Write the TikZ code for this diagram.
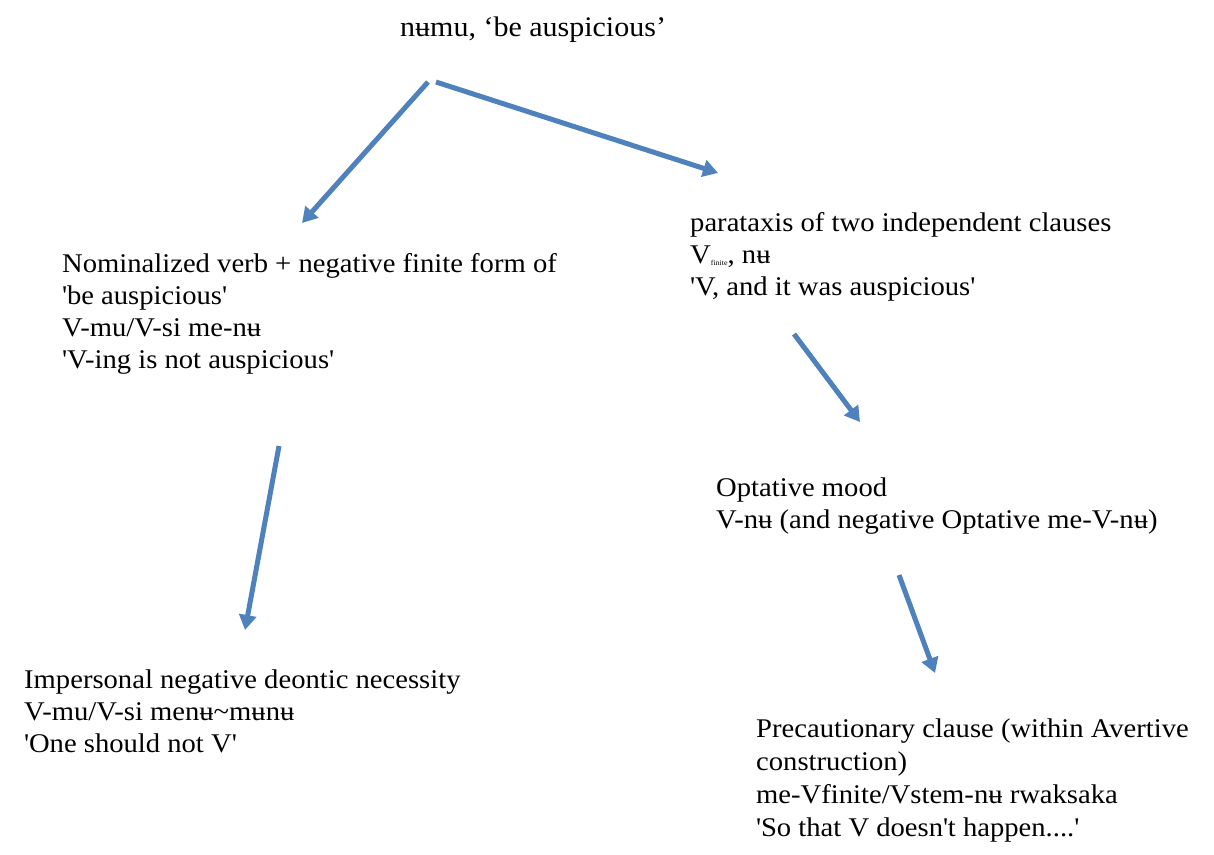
\documentclass[tikz,border=0pt]{standalone}
\usepackage{fontspec}
\setmainfont{Liberation Serif}[FakeStretch=1.06]
\usetikzlibrary{arrows.meta}
\definecolor{arrowblue}{RGB}{79,129,189}
\newcommand\sq{\textquotesingle}
\tikzset{
  txt/.style={anchor=base west, inner sep=0pt, font=\fontsize{27}{32.2}\selectfont},
  arr/.style={draw=arrowblue, line width=5pt, -{Triangle[length=15pt,width=17pt]}},
}
\begin{document}
\begin{tikzpicture}[x=1pt,y=-1pt]
\useasboundingbox[fill=white] (0,0) rectangle (1214,854);
\node[txt, font=\fontsize{28.3}{33}\selectfont] (title) at (400,36) {nʉmu, ‘be auspicious’};
\node[txt] (nominal) at (62,272) {\begin{tabular}[t]{@{}l@{}}Nominalized verb + negative finite form of\\ \sq be auspicious\sq\\ V-mu/V-si me-nʉ\\ \sq V-ing is not auspicious\sq\end{tabular}};
\node[txt] (parataxis) at (690,231) {\begin{tabular}[t]{@{}l@{}}parataxis of two independent clauses\\ V\raisebox{-2pt}{\fontsize{7.5}{7.5}\selectfont finite}, nʉ\\ \sq V, and it was auspicious\sq\end{tabular}};
\node[txt] (optative) at (716,496) {\begin{tabular}[t]{@{}l@{}}Optative mood\\ V-nʉ (and negative Optative me-V-nʉ)\end{tabular}};
\node[txt] (imperson) at (24,688) {\begin{tabular}[t]{@{}l@{}}Impersonal negative deontic necessity\\ V-mu/V-si menʉ\textasciitilde mʉnʉ\\ \sq One should not V\sq\end{tabular}};
\node[txt, font=\fontsize{27}{33.2}\selectfont] (precaution) at (756,737) {\begin{tabular}[t]{@{}l@{}}Precautionary clause (within Avertive\\ construction)\\ me-Vfinite/Vstem-nʉ rwaksaka\\ \sq So that V doesn\sq t happen....\sq\end{tabular}};
\coordinate (t1) at (428,82);
\coordinate (h1) at (302,223);
\coordinate (t2) at (436,82);
\coordinate (h2) at (718,173);
\coordinate (t3) at (279,446);
\coordinate (h3) at (245,630);
\coordinate (t4) at (794,334);
\coordinate (h4) at (860,422);
\coordinate (t5) at (899,575);
\coordinate (h5) at (935,673);
\draw[arr] (t1) -- (h1);
\draw[arr] (t2) -- (h2);
\draw[arr] (t3) -- (h3);
\draw[arr] (t4) -- (h4);
\draw[arr] (t5) -- (h5);
\end{tikzpicture}
\end{document}
